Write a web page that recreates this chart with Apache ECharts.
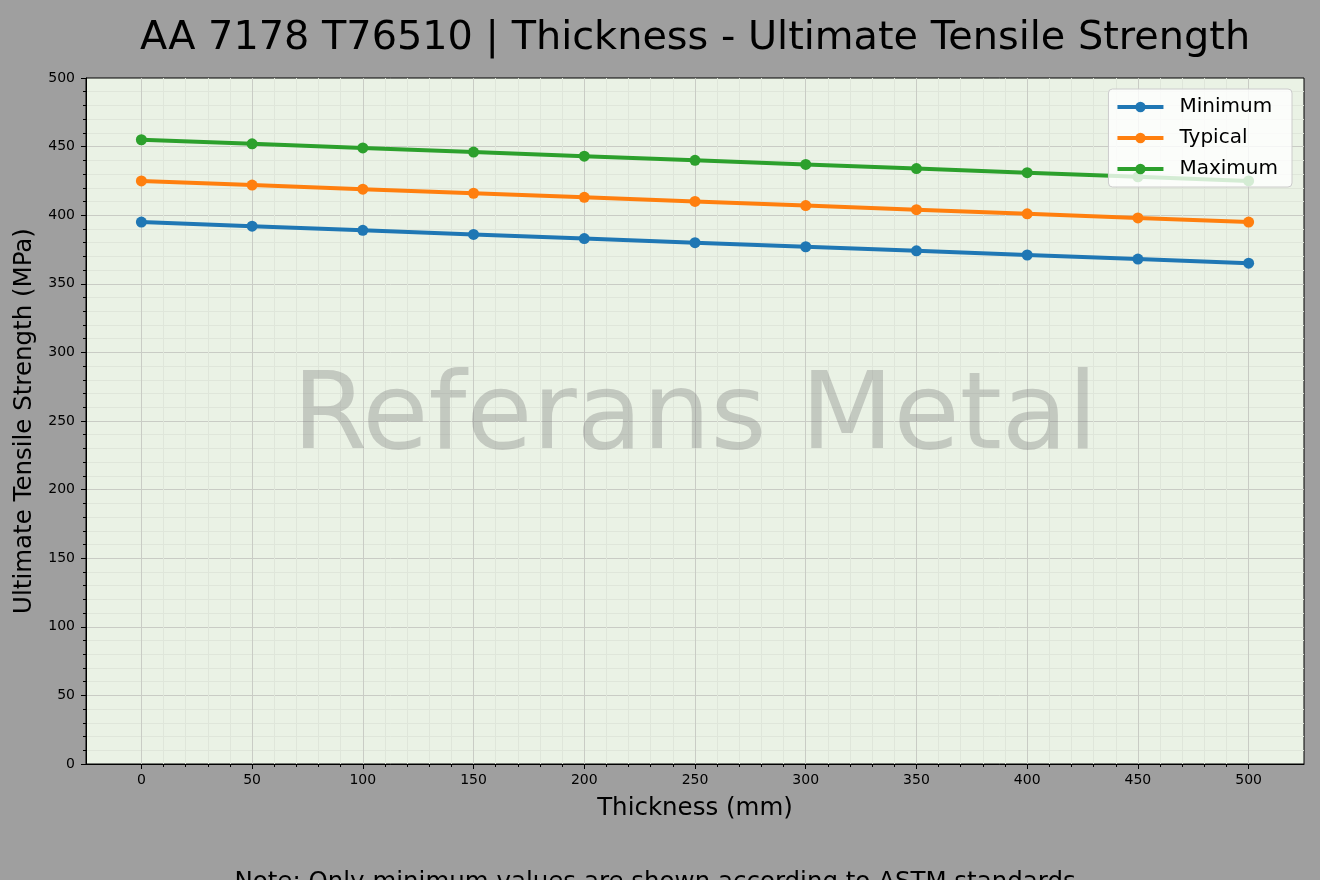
<!DOCTYPE html>
<html>
<head>
<meta charset="utf-8">
<script src="https://cdn.jsdelivr.net/npm/echarts@6/dist/echarts.min.js"></script>
<style>
html,body{margin:0;padding:0;background:#9f9f9f;}
#chart{width:1320px;height:880px;}
</style>
</head>
<body>
<div id="chart"></div>
<script>
const thickness = [0, 50, 100, 150, 200, 250, 300, 350, 400, 450, 500];
const minimum = [395, 392, 389, 386, 383, 380, 377, 374, 371, 368, 365];
const typical = [425, 422, 419, 416, 413, 410, 407, 404, 401, 398, 395];
const maximum = [455, 452, 449, 446, 443, 440, 437, 434, 431, 428, 425];
const xMajorTicks = [0, 50, 100, 150, 200, 250, 300, 350, 400, 450, 500];
const xMinorTicks = [];
for (let i = 0; i < xMajorTicks.length - 1; i++) {
  for (let k = 1; k < 5; k++) xMinorTicks.push(xMajorTicks[i] + k * 10);
}

const FONT = 'DejaVu Sans';
const chart = echarts.init(document.getElementById('chart'), null, {renderer: 'canvas'});

function pairs(ys) { return thickness.map((x, i) => [x, ys[i]]); }

const majorGrid = '#c9ccc5';
const minorGrid = '#dfe6da';

chart.setOption({
  backgroundColor: '#9f9f9f',
  textStyle: {fontFamily: FONT},
  animation: false,
  title: {
    text: 'AA 7178 T76510 | Thickness - Ultimate Tensile Strength',
    left: 690, top: 14, textAlign: 'center',
    textStyle: {fontSize: 39.8, fontWeight: 'normal', color: '#000', fontFamily: FONT}
  },
  grid: {
    left: 86, right: 16, top: 78, bottom: 116,
    show: true, backgroundColor: '#eaf2e5', borderColor: '#000', borderWidth: 1
  },
  legend: {
    orient: 'vertical', right: 28, top: 89,
    backgroundColor: 'rgba(255,255,255,0.8)', borderColor: '#cccccc', borderWidth: 1, borderRadius: 4,
    padding: [8, 14, 8, 7],
    itemWidth: 46, itemHeight: 13, itemGap: 11,
    lineStyle: {width: 4},
    textStyle: {fontSize: 20, color: '#000', fontFamily: FONT, padding: [0, 0, 0, 11]},
    data: ['Minimum', 'Typical', 'Maximum']
  },
  xAxis: [{
    type: 'value', min: -25, max: 525, position: 'bottom',
    name: 'Thickness (mm)', nameLocation: 'middle', nameGap: 32,
    nameTextStyle: {fontSize: 24.5, color: '#000', fontFamily: FONT},
    axisLine: {show: true, onZero: false, lineStyle: {color: '#000', width: 1}},
    axisTick: {show: true, length: 5, customValues: xMajorTicks, lineStyle: {color: '#000'}},
    axisLabel: {fontSize: 14, color: '#000', margin: 9, customValues: xMajorTicks},
    splitLine: {show: true, lineStyle: {color: majorGrid, width: 1}}
  }, {
    type: 'value', min: -25, max: 525, position: 'bottom',
    axisLine: {show: false},
    axisTick: {show: true, length: 3, customValues: xMinorTicks, lineStyle: {color: '#000'}},
    axisLabel: {show: false, customValues: xMinorTicks},
    splitLine: {show: true, lineStyle: {color: minorGrid, width: 1}}
  }],
  yAxis: [{
    type: 'value', min: 0, max: 500, interval: 50,
    name: 'Ultimate Tensile Strength (MPa)', nameLocation: 'middle', nameGap: 41, nameRotate: 90,
    nameTextStyle: {fontSize: 24.5, color: '#000', fontFamily: FONT},
    axisLine: {show: true, onZero: false, lineStyle: {color: '#000', width: 1}},
    axisTick: {show: true, length: 5, lineStyle: {color: '#000'}},
    minorTick: {show: true, splitNumber: 5, length: 3, lineStyle: {color: '#000'}},
    axisLabel: {fontSize: 14, color: '#000', margin: 11},
    splitLine: {show: true, showMinLine: false, showMaxLine: false, lineStyle: {color: majorGrid, width: 1}},
    minorSplitLine: {show: true, lineStyle: {color: minorGrid, width: 1}}
  }],
  graphic: [{
    type: 'text', x: 695, y: 420, z: 1, silent: true,
    style: {text: 'Referans Metal', fontSize: 107.5, fontFamily: FONT, fill: 'rgba(128,128,128,0.36)',
            textAlign: 'center', textVerticalAlign: 'middle'}
  }, {
    type: 'text', x: 659, y: 870, silent: true,
    style: {text: 'Note: Only minimum values are shown according to ASTM standards.', fontSize: 24.5,
            fontFamily: FONT, fill: '#000', textAlign: 'center', textVerticalAlign: 'top'}
  }],
  series: [
    {name: 'Minimum', type: 'line', data: pairs(minimum), color: '#1f77b4', symbol: 'circle', symbolSize: 11,
     lineStyle: {width: 4}, z: 3},
    {name: 'Typical', type: 'line', data: pairs(typical), color: '#ff7f0e', symbol: 'circle', symbolSize: 11,
     lineStyle: {width: 4}, z: 3},
    {name: 'Maximum', type: 'line', data: pairs(maximum), color: '#2ca02c', symbol: 'circle', symbolSize: 11,
     lineStyle: {width: 4}, z: 3}
  ]
});
</script>
</body>
</html>
